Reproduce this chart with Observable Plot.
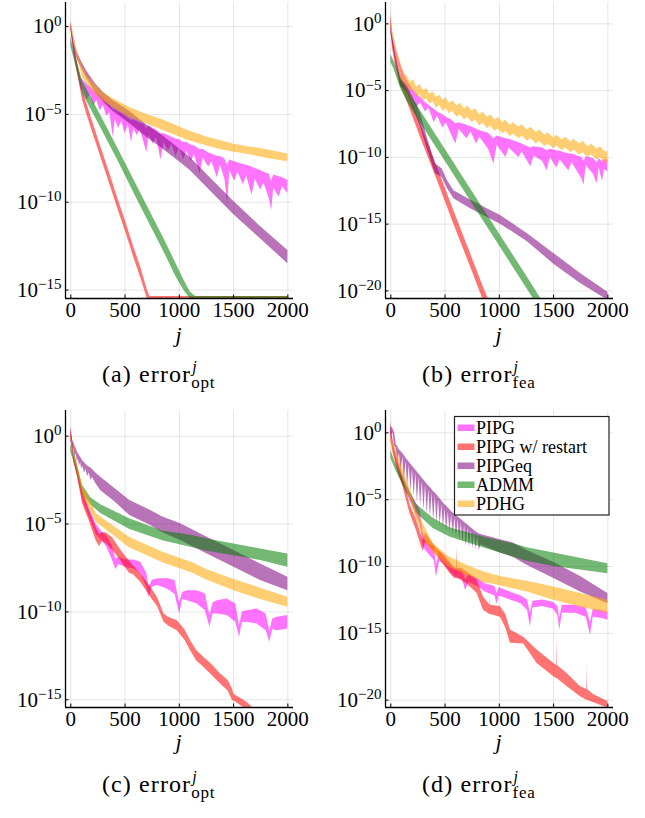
<!DOCTYPE html>
<html><head><meta charset="utf-8">
<script src="https://cdn.jsdelivr.net/npm/d3@7"></script>
<script src="https://cdn.jsdelivr.net/npm/@observablehq/plot@0.6"></script>
<style>
body{margin:0;background:#fff;}
#root{position:relative;width:645px;height:818px;overflow:hidden;}
#root svg{position:absolute;}
</style></head><body><div id="root"></div>
<script>
const methods = ["PIPG", "PIPG w/ restart", "PIPGeq", "ADMM", "PDHG"];
const colors = ["#ff00ff", "#ff0000", "#800080", "#008000", "#ffa500"];
const xTicks = [0, 500, 1000, 1500, 2000];
const captions = ["(a) error", "(b) error", "(c) error", "(d) error"];
const captionSubs = ["opt", "fea", "opt", "fea"];

// Each row: [iteration j, log10 of lower band edge, log10 of upper band edge]
// Panel (a): error_opt
const a_PIPG = [[0,-0.1,0.2],[30,-1.6,-1.2],[60,-2.5,-2.1],[92,-3.5,-2.9],[120,-3.7,-3.1],[150,-4.2,-3.3],[180,-3.9,-3.45],[210,-4.5,-3.6],[240,-4.2,-3.8],[270,-4.8,-3.95],[300,-4.5,-4.1],[330,-5.1,-4.3],[360,-4.9,-4.45],[390,-6.3,-4.7],[410,-5.3,-4.75],[440,-5.8,-4.85],[470,-5.4,-4.95],[500,-6.1,-5.1],[530,-5.6,-5.2],[560,-6.6,-5.35],[580,-5.8,-5.3],[610,-6.2,-5.4],[640,-5.9,-5.5],[670,-6.5,-5.55],[700,-7.2,-5.8],[720,-6.2,-5.65],[760,-6.7,-5.8],[790,-6.3,-5.9],[830,-7.6,-6.1],[860,-6.6,-6.1],[900,-7.1,-6.2],[930,-6.7,-6.3],[970,-7.4,-6.4],[1000,-6.9,-6.45],[1040,-7.6,-6.6],[1070,-7.1,-6.6],[1110,-7.7,-6.75],[1140,-7.3,-6.8],[1190,-8.4,-7.0],[1220,-7.5,-7.0],[1270,-8.0,-7.2],[1300,-7.7,-7.25],[1350,-8.6,-7.4],[1380,-7.9,-7.4],[1420,-8.7,-7.55],[1445,-10.1,-7.9],[1465,-8.2,-7.6],[1510,-8.8,-7.7],[1540,-8.3,-7.75],[1590,-9.0,-7.85],[1620,-8.5,-7.9],[1670,-9.6,-8.0],[1700,-8.7,-8.1],[1750,-9.3,-8.2],[1780,-8.9,-8.3],[1830,-9.8,-8.4],[1850,-10.5,-8.8],[1870,-9.2,-8.45],[1920,-9.7,-8.55],[1950,-9.1,-8.6],[2000,-9.5,-8.76]];
const a_RESTART = [[0,-0.1,0.3],[30,-1.6,-1.0],[60,-2.6,-2.0],[108,-4.2,-3.6],[153,-5.1,-4.5],[200,-6.0,-5.4],[285,-7.6,-7.0],[350,-8.8,-8.2],[429,-10.3,-9.7],[500,-11.6,-11.0],[583,-13.2,-12.6],[644,-14.3,-13.7],[705,-15.5,-15.0],[730,-15.6,-15.36],[2000,-15.6,-15.36]];
const a_PIPGEQ = [[0,-0.1,0.2],[30,-1.3,-0.9],[61,-1.9,-1.5],[108,-2.5,-2.1],[153,-3.0,-2.6],[233,-3.8,-3.3],[300,-4.3,-3.75],[386,-4.8,-4.2],[538,-5.5,-4.8],[700,-6.3,-5.6],[845,-6.95,-6.2],[1000,-7.7,-6.95],[1100,-8.2,-7.45],[1300,-9.45,-8.7],[1500,-10.7,-9.95],[1750,-12.1,-11.4],[2000,-13.5,-12.75]];
const a_ADMM = [[0,-1.1,-0.6],[40,-2.1,-1.6],[108,-3.8,-3.1],[258,-5.55,-4.85],[431,-7.6,-6.9],[600,-9.7,-8.95],[736,-11.35,-10.6],[860,-12.85,-12.1],[970,-14.25,-13.5],[1040,-15.0,-14.4],[1100,-15.5,-15.1],[1150,-15.6,-15.36],[2000,-15.6,-15.36]];
const a_PDHG = [[0,-0.1,0.2],[15,-0.5,-0.1],[61,-1.75,-1.4],[108,-2.9,-2.3],[153,-3.3,-2.8],[233,-3.9,-3.35],[300,-4.25,-3.75],[386,-4.6,-4.1],[538,-5.15,-4.6],[700,-5.55,-5.0],[845,-5.9,-5.3],[1091,-6.5,-5.95],[1257,-6.8,-6.3],[1380,-7.0,-6.5],[1503,-7.15,-6.7],[1650,-7.3,-6.85],[1800,-7.5,-7.0],[2000,-7.7,-7.25]];

// Panel (b): error_fea
const b_PIPG = [[0,0.0,0.5],[20,-1.6,-1.0],[58,-2.8,-2.2],[100,-3.9,-3.3],[150,-4.95,-4.25],[200,-5.6,-4.9],[240,-6.3,-5.3],[273,-5.9,-5.5],[320,-6.6,-5.9],[350,-6.3,-6.1],[400,-7.4,-6.4],[430,-6.9,-6.6],[480,-7.8,-6.8],[510,-7.4,-7.0],[560,-8.3,-7.2],[600,-9.0,-7.5],[630,-7.9,-7.4],[700,-8.6,-7.6],[740,-8.1,-7.7],[790,-9.0,-7.9],[820,-8.5,-8.0],[900,-9.4,-8.2],[950,-10.5,-8.6],[980,-9.1,-8.4],[1060,-10.0,-8.6],[1090,-9.3,-8.65],[1180,-10.0,-8.9],[1210,-9.6,-9.0],[1290,-10.7,-9.3],[1320,-9.9,-9.2],[1400,-10.3,-9.3],[1440,-11.0,-9.5],[1470,-10.0,-9.4],[1530,-10.8,-9.5],[1560,-10.2,-9.55],[1640,-11.0,-9.75],[1670,-10.4,-9.75],[1760,-11.6,-10.0],[1780,-12.1,-10.3],[1800,-10.6,-9.95],[1870,-11.3,-10.1],[1900,-12.0,-10.4],[1920,-10.8,-10.1],[1950,-11.8,-10.3],[1970,-10.9,-10.15],[2000,-11.1,-10.2]];
const b_RESTART = [[0,-0.3,1.0],[15,-1.8,-1.0],[40,-3.0,-2.3],[89,-4.6,-3.7],[150,-5.8,-4.9],[273,-8.5,-7.5],[427,-11.7,-10.7],[581,-15.0,-14.0],[734,-18.2,-17.2],[857,-20.8,-19.8],[920,-22.0,-21.0]];
const b_PIPGEQ = [[0,-0.7,-0.2],[40,-2.6,-2.0],[89,-4.7,-4.2],[150,-5.1,-4.6],[273,-7.7,-6.7],[335,-9.35,-8.5],[412,-11.2,-10.5],[473,-11.5,-10.85],[519,-12.3,-11.7],[581,-13.1,-12.5],[734,-13.85,-13.2],[888,-14.5,-13.85],[1011,-15.0,-14.35],[1256,-16.3,-15.7],[1502,-18.0,-17.2],[1748,-19.45,-18.7],[2000,-20.7,-20.1]];
const b_ADMM = [[0,-2.9,-2.3],[30,-3.4,-2.8],[89,-4.8,-4.0],[150,-5.8,-4.9],[273,-7.4,-6.5],[510,-10.4,-9.5],[734,-13.25,-12.35],[1011,-16.75,-15.85],[1256,-19.85,-18.95],[1349,-21.05,-20.15],[1400,-21.7,-20.8]];
const b_PDHG = [[0,-0.3,0.3],[20,-1.2,-0.6],[58,-2.74,-2.0],[117,-4.4,-3.6],[150,-4.75,-3.95],[180,-5.05,-4.35],[210,-4.95,-4.2],[240,-5.5,-4.75],[270,-5.3,-4.55],[300,-5.75,-5.0],[330,-5.6,-4.85],[360,-6.0,-5.25],[390,-5.85,-5.1],[420,-6.3,-5.5],[450,-6.1,-5.35],[480,-6.55,-5.7],[510,-6.35,-5.55],[540,-6.75,-5.95],[570,-6.55,-5.75],[610,-7.0,-6.15],[640,-6.8,-5.95],[680,-7.2,-6.35],[710,-7.0,-6.15],[750,-7.4,-6.55],[780,-7.2,-6.35],[820,-7.65,-6.8],[850,-7.45,-6.6],[890,-7.85,-7.0],[920,-7.65,-6.8],[960,-8.05,-7.2],[990,-7.85,-7.0],[1030,-8.25,-7.4],[1060,-8.05,-7.2],[1100,-8.45,-7.6],[1130,-8.25,-7.4],[1180,-8.6,-7.75],[1210,-8.4,-7.55],[1260,-8.8,-7.95],[1290,-8.6,-7.75],[1340,-9.0,-8.15],[1370,-8.8,-7.95],[1420,-9.2,-8.35],[1450,-9.0,-8.15],[1500,-9.35,-8.55],[1530,-9.15,-8.35],[1580,-9.5,-8.7],[1610,-9.3,-8.5],[1660,-9.65,-8.85],[1690,-9.45,-8.65],[1740,-9.85,-9.0],[1770,-9.65,-8.8],[1820,-10.0,-9.2],[1850,-9.8,-9.0],[1900,-10.2,-9.4],[1930,-10.0,-9.2],[1980,-10.45,-9.6],[2000,-10.4,-9.55]];

// Panel (c): error_opt
const c_PIPG = [[0,-0.2,0.3],[30,-1.5,-1.0],[61,-2.3,-1.8],[108,-3.6,-3.0],[169,-4.6,-4.1],[233,-5.6,-5.0],[280,-5.9,-5.4],[330,-6.3,-5.7],[380,-7.0,-6.2],[415,-7.6,-7.0],[440,-7.3,-6.9],[521,-7.5,-7.05],[583,-7.56,-7.04],[644,-7.84,-7.18],[700,-8.6,-7.8],[721,-9.17,-8.6],[751,-8.6,-8.2],[797,-8.5,-8.13],[889,-8.7,-8.1],[960,-9.0,-8.22],[1003,-10.12,-9.5],[1030,-9.3,-8.9],[1073,-9.36,-8.79],[1165,-9.55,-8.79],[1240,-9.93,-8.98],[1282,-10.88,-10.2],[1310,-10.1,-9.5],[1349,-10.12,-9.36],[1441,-10.21,-9.27],[1520,-10.59,-9.55],[1555,-11.45,-10.8],[1580,-10.6,-10.0],[1625,-10.59,-9.93],[1717,-10.69,-9.83],[1800,-11.07,-10.12],[1834,-11.73,-11.1],[1860,-11.0,-10.4],[1901,-11.07,-10.31],[2000,-10.97,-10.21]];
const c_RESTART = [[0,-0.1,0.6],[30,-1.5,-0.9],[61,-2.3,-1.7],[108,-3.85,-3.1],[169,-4.8,-4.2],[233,-5.95,-5.2],[265,-6.3,-5.6],[290,-6.0,-5.5],[325,-6.1,-5.5],[386,-6.5,-5.8],[463,-7.1,-6.5],[540,-7.8,-7.1],[580,-7.9,-7.4],[644,-8.32,-7.84],[736,-9.17,-8.6],[800,-9.7,-9.2],[859,-10.59,-10.12],[900,-10.8,-10.3],[981,-11.07,-10.5],[1050,-11.6,-11.0],[1104,-12.21,-11.64],[1160,-12.8,-12.2],[1227,-13.16,-12.59],[1300,-13.6,-13.0],[1380,-14.1,-13.54],[1450,-14.5,-13.9],[1490,-15.06,-14.4],[1503,-15.06,-14.68],[1626,-15.6,-15.15],[1700,-16.2,-15.6]];
const c_PIPGEQ = [[0,-0.1,0.35],[10,-0.6,0.0],[20,-0.9,-0.3],[30,-0.7,-0.4],[40,-1.2,-0.6],[50,-1.0,-0.7],[60,-1.5,-0.9],[70,-1.3,-1.0],[80,-1.7,-1.1],[90,-1.5,-1.2],[100,-1.9,-1.3],[110,-1.7,-1.4],[125,-2.1,-1.5],[140,-1.9,-1.6],[155,-2.3,-1.7],[170,-2.1,-1.75],[184,-2.5,-1.8],[200,-2.35,-1.9],[230,-2.7,-2.1],[276,-3.1,-2.34],[400,-3.7,-2.95],[540,-4.5,-3.65],[736,-5.09,-4.23],[847,-5.5,-4.6],[1012,-5.94,-4.99],[1257,-6.7,-5.75],[1503,-7.46,-6.51],[1748,-8.22,-7.27],[2000,-8.79,-8.03]];
const c_ADMM = [[0,-0.9,-0.5],[30,-1.5,-1.1],[61,-2.1,-1.7],[108,-3.3,-2.8],[184,-3.9,-3.5],[276,-4.4,-3.9],[540,-5.3,-4.7],[847,-5.95,-5.4],[1123,-6.35,-5.65],[1257,-6.55,-5.85],[1503,-6.8,-6.13],[1748,-7.08,-6.42],[2000,-7.46,-6.7]];
const c_PDHG = [[0,-0.2,0.2],[30,-1.3,-0.9],[61,-2.0,-1.6],[108,-3.3,-2.8],[184,-4.3,-3.7],[233,-4.9,-4.4],[276,-5.1,-4.6],[540,-6.35,-5.75],[847,-7.2,-6.6],[1123,-7.8,-7.2],[1257,-8.2,-7.6],[1503,-8.8,-8.15],[1748,-9.3,-8.65],[2000,-9.74,-9.17]];

// Panel (d): error_fea
const d_PIPG = [[0,-0.3,0.3],[40,-1.9,-1.3],[86,-3.4,-2.7],[178,-5.1,-4.4],[271,-6.8,-5.8],[298,-8.55,-7.5],[330,-8.9,-8.2],[400,-9.55,-8.55],[421,-10.8,-9.9],[450,-9.6,-8.9],[500,-9.9,-9.2],[578,-10.7,-10.0],[660,-11.0,-10.4],[690,-11.8,-11.0],[720,-11.2,-10.6],[800,-11.5,-10.9],[870,-11.9,-11.3],[960,-12.2,-11.5],[978,-12.8,-12.0],[1000,-12.2,-11.6],[1100,-12.5,-11.9],[1200,-12.78,-12.2],[1260,-13.3,-12.5],[1286,-14.52,-13.5],[1310,-13.1,-12.6],[1400,-13.0,-12.5],[1500,-13.2,-12.7],[1540,-13.7,-13.0],[1557,-14.77,-13.9],[1580,-13.5,-12.9],[1700,-13.5,-12.9],[1800,-13.8,-13.1],[1840,-15.14,-14.2],[1865,-13.8,-13.2],[1950,-13.9,-13.3],[2000,-14.02,-13.4]];
const d_RESTART = [[0,-0.5,0.92],[20,-1.5,-0.7],[55,-2.6,-1.9],[114,-4.1,-3.3],[175,-6.0,-5.3],[236,-7.3,-6.55],[298,-8.9,-8.05],[320,-8.2,-7.5],[390,-8.8,-8.3],[455,-9.5,-8.9],[544,-10.5,-9.8],[590,-10.9,-10.2],[606,-10.9,-10.2],[610,-10.9,-8.5],[614,-10.9,-10.2],[640,-11.0,-10.1],[700,-11.3,-10.4],[794,-12.0,-11.0],[855,-13.3,-12.3],[914,-13.6,-12.9],[917,-13.6,-12.3],[920,-13.6,-12.9],[1009,-13.8,-13.0],[1060,-14.6,-13.6],[1102,-15.75,-14.75],[1225,-15.8,-15.3],[1348,-17.25,-16.25],[1502,-18.25,-17.25],[1529,-18.4,-17.4],[1532,-18.4,-15.3],[1535,-18.4,-17.4],[1625,-19.0,-18.0],[1748,-19.75,-19.0],[1806,-20.0,-19.2],[1809,-20.0,-17.4],[1812,-20.0,-19.2],[1871,-20.2,-19.6],[2000,-20.6,-20.1]];
const d_PIPGEQ = [[0,-0.2,0.5],[20,0.0,0.3],[35,-1.0,0.0],[50,-1.15,-0.9],[65,-2.2,-1.05],[80,-1.55,-1.3],[95,-3.0,-1.4],[110,-1.8,-1.55],[125,-3.6,-1.7],[140,-2.15,-1.9],[155,-4.0,-2.05],[170,-2.45,-2.2],[185,-4.4,-2.35],[200,-2.75,-2.5],[215,-4.8,-2.65],[230,-3.05,-2.8],[245,-5.2,-2.95],[260,-3.35,-3.1],[275,-5.5,-3.25],[290,-3.65,-3.4],[305,-5.8,-3.55],[320,-3.95,-3.7],[335,-6.1,-3.85],[350,-4.25,-4.0],[365,-6.35,-4.1],[380,-4.5,-4.25],[395,-6.6,-4.4],[410,-4.75,-4.5],[425,-6.8,-4.65],[440,-5.05,-4.8],[455,-7.0,-4.95],[470,-5.35,-5.1],[485,-7.2,-5.25],[500,-5.65,-5.4],[515,-7.4,-5.5],[530,-5.9,-5.65],[545,-7.55,-5.75],[560,-6.15,-5.9],[575,-7.7,-6.0],[590,-6.35,-6.1],[605,-7.9,-6.2],[620,-6.55,-6.3],[635,-8.1,-6.4],[650,-6.75,-6.5],[665,-8.3,-6.6],[680,-6.95,-6.7],[695,-8.5,-6.8],[710,-7.15,-6.9],[725,-8.6,-7.0],[740,-7.35,-7.1],[755,-8.7,-7.2],[770,-7.55,-7.3],[785,-8.75,-7.4],[800,-7.75,-7.5],[815,-8.8,-7.55],[830,-8.4,-7.6],[1009,-9.0,-8.0],[1129,-9.3,-8.25],[1255,-9.9,-8.8],[1502,-10.9,-9.7],[1748,-11.9,-10.75],[2000,-12.78,-12.03]];
const d_ADMM = [[0,-1.9,-1.3],[40,-2.7,-2.2],[114,-3.95,-3.4],[178,-4.9,-4.4],[236,-6.0,-5.35],[390,-7.15,-6.4],[544,-7.8,-7.1],[852,-8.6,-7.8],[1129,-9.3,-8.3],[1255,-9.6,-8.6],[1502,-10.0,-9.0],[2000,-10.54,-9.79]];
const d_PDHG = [[0,-0.7,-0.2],[40,-1.7,-1.1],[114,-3.55,-2.8],[178,-4.9,-4.2],[236,-6.55,-5.8],[329,-8.3,-7.3],[390,-9.0,-8.3],[544,-10.1,-9.3],[700,-10.6,-9.9],[852,-11.2,-10.4],[1009,-11.45,-10.75],[1255,-11.9,-11.1],[1502,-12.53,-11.53],[1748,-13.03,-12.03],[2000,-13.52,-12.53]];

// y-axis extents (log10) and decade ticks per panel
const yExtA = [-15.48, 1.37], yExtB = [-20.57, 1.6], yExtC = [-15.44, 1.46], yExtD = [-20.55, 1.67];
const yTicks15 = [0, -5, -10, -15], yTicks20 = [0, -5, -10, -15, -20];

// choose the first installed serif face
function pickFont(cands) {
  const ctx = document.createElement("canvas").getContext("2d");
  const s = "mmmmmmmmmmlliiWWQQ0123456789error";
  ctx.font = "40px monospace"; const b1 = ctx.measureText(s).width;
  ctx.font = "40px sans-serif"; const b2 = ctx.measureText(s).width;
  for (const f of cands) {
    ctx.font = `40px '${f}', monospace`; const w1 = ctx.measureText(s).width;
    ctx.font = `40px '${f}', sans-serif`; const w2 = ctx.measureText(s).width;
    if (w1 !== b1 || w2 !== b2) return `'${f}', serif`;
  }
  return "serif";
}
const FONT = pickFont(["Liberation Serif", "Times New Roman", "DejaVu Serif", "Noto Serif", "FreeSerif"]);

const root = document.getElementById("root");
const toRows = arr => arr.map(([j, lo, hi]) => ({j, lo: Math.pow(10, lo), hi: Math.pow(10, hi)}));

function panel(seriesList, yExt, yTicks, left, top, marginTop, frameBottom) {
  const H = frameBottom + 34;
  const xDom = [-49, 2052];
  const yDom = [Math.pow(10, yExt[0]), Math.pow(10, yExt[1])];
  const tickVals = yTicks.map(e => Math.pow(10, e));
  const frameH = frameBottom - marginTop;
  const tickDec = 3.5 / frameH * (yExt[1] - yExt[0]);
  const tickJ = 3.5 / 228 * (xDom[1] - xDom[0]);
  const svg = Plot.plot({
    width: 320, height: H,
    marginLeft: 65, marginRight: 27, marginTop: marginTop, marginBottom: H - frameBottom,
    style: {fontFamily: FONT, fontSize: "21px", color: "#000", background: "transparent", overflow: "visible"},
    x: {domain: xDom, ticks: xTicks, tickSize: 0, tickPadding: 4, label: null, tickFormat: d => String(d)},
    y: {type: "log", domain: yDom, ticks: tickVals, tickSize: 0, tickPadding: 4, label: null,
        tickFormat: d => String(Math.round(Math.log10(d)))},
    marks: [
      Plot.ruleX(xTicks, {stroke: "#000", strokeOpacity: 0.1, strokeWidth: 1}),
      Plot.ruleY(tickVals, {stroke: "#000", strokeOpacity: 0.1, strokeWidth: 1}),
      ...seriesList.map((s, i) => Plot.areaY(toRows(s), {x: "j", y1: "lo", y2: "hi", fill: colors[i], fillOpacity: 0.55, clip: true})),
      Plot.ruleY(tickVals, {x1: xDom[0], x2: xDom[0] + tickJ, stroke: "#000", strokeWidth: 1}),
      Plot.ruleX(xTicks, {y1: yDom[0], y2: Math.pow(10, yExt[0] + tickDec), stroke: "#000", strokeWidth: 1}),
      Plot.ruleX([xDom[0]], {stroke: "#000", strokeWidth: 1.3}),
      Plot.ruleY([yDom[0]], {stroke: "#000", strokeWidth: 1.3})
    ]
  });
  svg.style.left = left + "px";
  svg.style.top = top + "px";
  svg.querySelectorAll("text").forEach(t => t.setAttribute("font-family", FONT));
  // superscript exponents on y tick labels
  svg.querySelectorAll('g[aria-label="y-axis tick label"] text').forEach(t => {
    const e = t.textContent.replace("-", "\u2212");
    t.textContent = "";
    const base = document.createElementNS("http://www.w3.org/2000/svg", "tspan");
    base.textContent = "10";
    const sup = document.createElementNS("http://www.w3.org/2000/svg", "tspan");
    sup.textContent = e;
    sup.setAttribute("dy", "-0.5em");
    sup.setAttribute("font-size", "15px");
    t.appendChild(base); t.appendChild(sup);
  });
  root.appendChild(svg);
}

panel([a_PIPG, a_RESTART, a_PIPGEQ, a_ADMM, a_PDHG], yExtA, yTicks15, 0, 0, 2, 298);
panel([b_PIPG, b_RESTART, b_PIPGEQ, b_ADMM, b_PDHG], yExtB, yTicks20, 320, 0, 2, 298);
panel([c_PIPG, c_RESTART, c_PIPGEQ, c_ADMM, c_PDHG], yExtC, yTicks15, 0, 400, 10, 307);
panel([d_PIPG, d_RESTART, d_PIPGEQ, d_ADMM, d_PDHG], yExtD, yTicks20, 320, 400, 10, 307);

// overlay: axis labels, captions, legend
const ov = d3.select(root).append("svg").attr("width", 645).attr("height", 818)
  .style("left", "0px").style("top", "0px").attr("font-family", FONT);

[[178.5, 342], [498.5, 342], [178.5, 749], [498.5, 749]].forEach(([x, y]) => {
  ov.append("text").attr("x", x).attr("y", y).attr("text-anchor", "middle")
    .attr("font-size", 22).attr("font-style", "italic").text("j");
});

[[102, 382], [422, 382], [102, 792], [422, 792]].forEach(([x, y], i) => {
  const t = ov.append("text").attr("x", x).attr("y", y).attr("font-size", 24)
    .style("letter-spacing", "1.1px").text(captions[i]);
  const w = t.node().getComputedTextLength();
  ov.append("text").attr("x", x + w + 1).attr("y", y - 10).attr("font-size", 16)
    .attr("font-style", "italic").text("j");
  ov.append("text").attr("x", x + w).attr("y", y + 6).attr("font-size", 17)
    .style("letter-spacing", "0.8px").text(captionSubs[i]);
});

const lg = ov.append("g");
lg.append("rect").attr("x", 454.5).attr("y", 416.5).attr("width", 154.5).attr("height", 98.5)
  .attr("fill", "#fff").attr("stroke", "#222").attr("stroke-width", 1.2);
methods.forEach((m, i) => {
  const yb = 434 + i * 19;
  lg.append("rect").attr("x", 457.5).attr("y", yb - 9.5).attr("width", 17).attr("height", 6.5)
    .attr("fill", colors[i]).attr("fill-opacity", 0.55);
  lg.append("text").attr("x", 476).attr("y", yb).attr("font-size", 18).text(m);
});
</script></body></html>
